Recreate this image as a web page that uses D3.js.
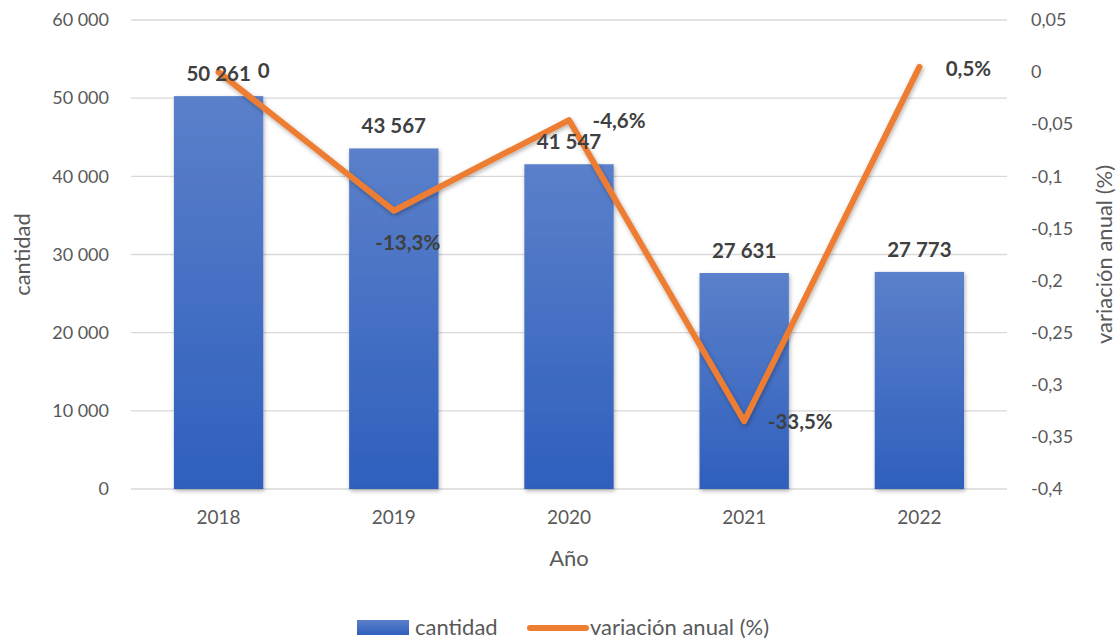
<!DOCTYPE html>
<html>
<head>
<meta charset="utf-8">
<script src="https://cdn.jsdelivr.net/npm/d3@7"></script>
<style>
  body { margin: 0; background: #fff; }
  text { font-family: Lato, "Open Sans", sans-serif; }
</style>
</head>
<body>
<script>
// data
const years = ["2018", "2019", "2020", "2021", "2022"]
const cantidad = [50261, 43567, 41547, 27631, 27773]
const variacion = [0, -0.133, -0.046, -0.335, 0.005]
const variacionLabels = ["0", "-13,3%", "-4,6%", "-33,5%", "0,5%"]
const leftTicks = [0, 10000, 20000, 30000, 40000, 50000, 60000]
const rightTicks = [0.05, 0, -0.05, -0.1, -0.15, -0.2, -0.25, -0.3, -0.35, -0.4]

const width = 1119, height = 641
const margin = {top: 20, right: 112, bottom: 152, left: 131}
const gWidth = width - margin.left - margin.right
const gHeight = height - margin.top - margin.bottom

const svg = d3.select("body").append("svg")
  .attr("width", width).attr("height", height)

const defs = svg.append("defs")
const grad = defs.append("linearGradient").attr("id", "barGrad")
  .attr("x1", 0).attr("y1", 0).attr("x2", 0).attr("y2", 1)
grad.append("stop").attr("offset", "0%").attr("stop-color", "#5b80ca")
grad.append("stop").attr("offset", "100%").attr("stop-color", "#2f5fbd")

const shadow = defs.append("filter").attr("id", "shadow")
  .attr("x", "-20%").attr("y", "-20%").attr("width", "140%").attr("height", "140%")
shadow.append("feDropShadow").attr("dx", 1).attr("dy", 2).attr("stdDeviation", 2)
  .attr("flood-color", "#000").attr("flood-opacity", 0.3)

const g = svg.append("g").attr("transform", "translate(" + margin.left + "," + margin.top + ")")

const x = d3.scaleBand().domain(years).range([0, gWidth]).paddingInner(0.49).paddingOuter(0.245)
const y = d3.scaleLinear().domain([0, 60000]).range([gHeight, 0])
const y2 = d3.scaleLinear().domain([-0.4, 0.05]).range([gHeight, 0])

const fmt = d => d3.format(",")(d).replace(/,/g, " ")
const fmt2 = d => d === 0 ? "0" : String(d).replace(".", ",")

// gridlines
g.append("g").selectAll("line").data(leftTicks).enter().append("line")
  .attr("x1", 0).attr("x2", gWidth)
  .attr("y1", d => y(d)).attr("y2", d => y(d))
  .attr("stroke", "#d9d9d9").attr("stroke-width", 1.3)

// left axis
const yAxis = d3.axisLeft(y).tickValues(leftTicks).tickFormat(fmt).tickSize(0).tickPadding(22)
const ya = g.append("g").call(yAxis)
ya.select(".domain").remove()
ya.selectAll("text").attr("font-size", 18).attr("fill", "#595959")

// right axis
const yAxis2 = d3.axisRight(y2).tickValues(rightTicks).tickFormat(fmt2).tickSize(0).tickPadding(24)
const yb = g.append("g").attr("transform", "translate(" + gWidth + ",0)").call(yAxis2)
yb.select(".domain").remove()
yb.selectAll("text").attr("font-size", 18).attr("fill", "#595959")

// x axis
const xAxis = d3.axisBottom(x).tickSize(0).tickPadding(22)
const xa = g.append("g").attr("transform", "translate(0," + gHeight + ")").call(xAxis)
xa.select(".domain").remove()
xa.selectAll("text").attr("font-size", 19).attr("fill", "#595959")

// bars
g.append("g").selectAll("rect").data(cantidad).enter().append("rect")
  .attr("x", (d, i) => x(years[i]))
  .attr("y", d => y(d))
  .attr("width", x.bandwidth())
  .attr("height", d => gHeight - y(d))
  .attr("fill", "url(#barGrad)")
  .attr("filter", "url(#shadow)")

// line
const line = d3.line().x((d, i) => x(years[i]) + x.bandwidth() / 2).y(d => y2(d))
g.append("path").datum(variacion)
  .attr("d", line)
  .attr("fill", "none")
  .attr("stroke", "#ed7d31")
  .attr("stroke-width", 6)
  .attr("stroke-linecap", "round")
  .attr("stroke-linejoin", "round")
  .attr("filter", "url(#shadow)")

// bar labels
g.append("g").selectAll("text").data(cantidad).enter().append("text")
  .attr("x", (d, i) => x(years[i]) + x.bandwidth() / 2)
  .attr("y", d => y(d) - 15)
  .attr("text-anchor", "middle")
  .attr("font-size", 20.5).attr("font-weight", "bold").attr("fill", "#404040")
  .text(fmt)

// line labels
const lblDx = [45, 14, 50, 56, 49]
const lblDy = [6, 39, 8, 8, 9]
g.append("g").selectAll("text").data(variacion).enter().append("text")
  .attr("x", (d, i) => x(years[i]) + x.bandwidth() / 2 + lblDx[i])
  .attr("y", (d, i) => y2(d) + lblDy[i])
  .attr("text-anchor", "middle")
  .attr("font-size", 20.5).attr("font-weight", "bold").attr("fill", "#404040")
  .text((d, i) => variacionLabels[i])

// axis titles
svg.append("text").attr("transform", "translate(30," + (margin.top + gHeight / 2) + ") rotate(-90)")
  .attr("text-anchor", "middle").attr("font-size", 22).attr("fill", "#595959").text("cantidad")
svg.append("text").attr("transform", "translate(1112," + (margin.top + gHeight / 2) + ") rotate(-90)")
  .attr("text-anchor", "middle").attr("font-size", 22).attr("fill", "#595959").text("variación anual (%)")
svg.append("text").attr("x", margin.left + gWidth / 2).attr("y", 566)
  .attr("text-anchor", "middle").attr("font-size", 22).attr("fill", "#595959").text("Año")

// legend
const legend = svg.append("g").attr("transform", "translate(357,620)")
legend.append("rect").attr("x", 0).attr("y", 0).attr("width", 52).attr("height", 15).attr("fill", "url(#barGrad)")
legend.append("text").attr("x", 58).attr("y", 15).attr("font-size", 22).attr("fill", "#595959").text("cantidad")
legend.append("line").attr("x1", 173).attr("x2", 229).attr("y1", 8).attr("y2", 8)
  .attr("stroke", "#ed7d31").attr("stroke-width", 6).attr("stroke-linecap", "round")
legend.append("text").attr("x", 233).attr("y", 15).attr("font-size", 22).attr("fill", "#595959").text("variación anual (%)")
</script>
</body>
</html>
